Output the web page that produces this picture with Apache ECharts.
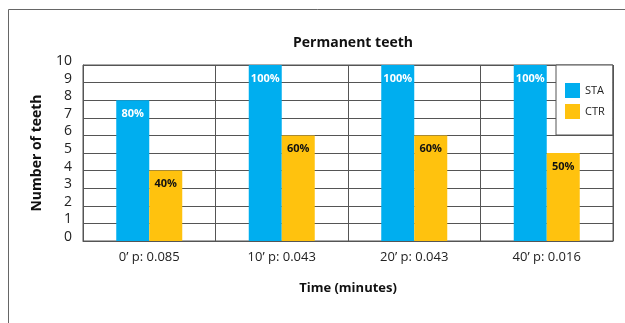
<!DOCTYPE html>
<html>
<head>
<meta charset="utf-8">
<script src="https://cdn.jsdelivr.net/npm/echarts@6/dist/echarts.min.js"></script>
<style>
  html, body { margin: 0; padding: 0; background: #fff; }
  #chart { width: 625px; height: 323px; }
</style>
</head>
<body>
<div id="chart"></div>
<script>
// Time points (with p-values) along the x axis
const categories = ["0\u2019 p: 0.085", "10\u2019 p: 0.043", "20\u2019 p: 0.043", "40\u2019 p: 0.016"];
// Number of teeth per group (out of 10)
const staValues = [8, 10, 10, 10];
const ctrValues = [4, 6, 6, 5];
const totalTeeth = 10;
const yTicks = [0, 10, 1]; // min, max, step

const FONT = '"Open Sans", "Noto Sans", sans-serif';
const chart = echarts.init(document.getElementById('chart'), null, { renderer: 'canvas' });

const pctLabel = (color) => ({
  show: true,
  position: 'insideTop',
  distance: 8,
  color: color,
  fontFamily: FONT,
  fontWeight: 'bold',
  fontSize: 11,
  formatter: (p) => Math.round(p.value / totalTeeth * 100) + '%'
});

chart.setOption({
  animation: false,
  backgroundColor: '#fff',
  title: {
    text: 'Permanent teeth',
    left: 348, top: 31, textAlign: 'center',
    textStyle: { fontFamily: FONT, fontWeight: 'bold', fontSize: 14, color: '#111' }
  },
  graphic: [{
    type: 'rect', silent: true, z: -1,
    shape: { x: 8.5, y: 9.5, width: 640, height: 340 },
    style: { fill: 'none', stroke: '#666', lineWidth: 1 }
  }],
  legend: {
    orient: 'vertical',
    left: 556, top: 65,
    padding: [18, 8, 16, 9],
    itemWidth: 15, itemHeight: 15, itemGap: 6,
    backgroundColor: '#fff',
    borderColor: '#555', borderWidth: 1,
    textStyle: { fontFamily: FONT, fontSize: 11, color: '#222' },
    itemStyle: { borderWidth: 0 },
    data: [{ name: 'STA', icon: 'rect' }, { name: 'CTR', icon: 'rect' }]
  },
  grid: {
    left: 83, right: 12, top: 65, bottom: 82,
    show: true, borderColor: '#555', borderWidth: 1
  },
  xAxis: {
    type: 'category',
    data: categories,
    name: 'Time (minutes)',
    nameLocation: 'middle',
    nameGap: 41,
    nameTextStyle: { fontFamily: FONT, fontWeight: 'bold', fontSize: 13, color: '#111' },
    axisLine: { show: true, lineStyle: { color: '#555' } },
    axisTick: { show: false },
    axisLabel: { fontFamily: FONT, fontSize: 13, color: '#222', margin: 10 },
    splitLine: { show: true, lineStyle: { color: '#555', width: 1 } }
  },
  yAxis: {
    type: 'value',
    min: yTicks[0], max: yTicks[1], interval: yTicks[2],
    name: 'Number of teeth',
    nameLocation: 'middle',
    nameGap: 39,
    nameTextStyle: { fontFamily: FONT, fontWeight: 'bold', fontSize: 14, color: '#111' },
    axisLine: { show: true, lineStyle: { color: '#555' } },
    axisTick: { show: false },
    axisLabel: { fontFamily: FONT, fontSize: 14, color: '#222', margin: 11, verticalAlign: 'bottom', lineHeight: 8 },
    splitLine: { show: true, lineStyle: { color: '#555', width: 1 } }
  },
  series: [
    {
      name: 'STA', type: 'bar', data: staValues,
      barWidth: 33, barGap: '0%',
      itemStyle: { color: '#00AEEF' },
      label: pctLabel('#fff')
    },
    {
      name: 'CTR', type: 'bar', data: ctrValues,
      barWidth: 33,
      itemStyle: { color: '#FFC20E' },
      label: pctLabel('#111')
    }
  ]
});
</script>
</body>
</html>
